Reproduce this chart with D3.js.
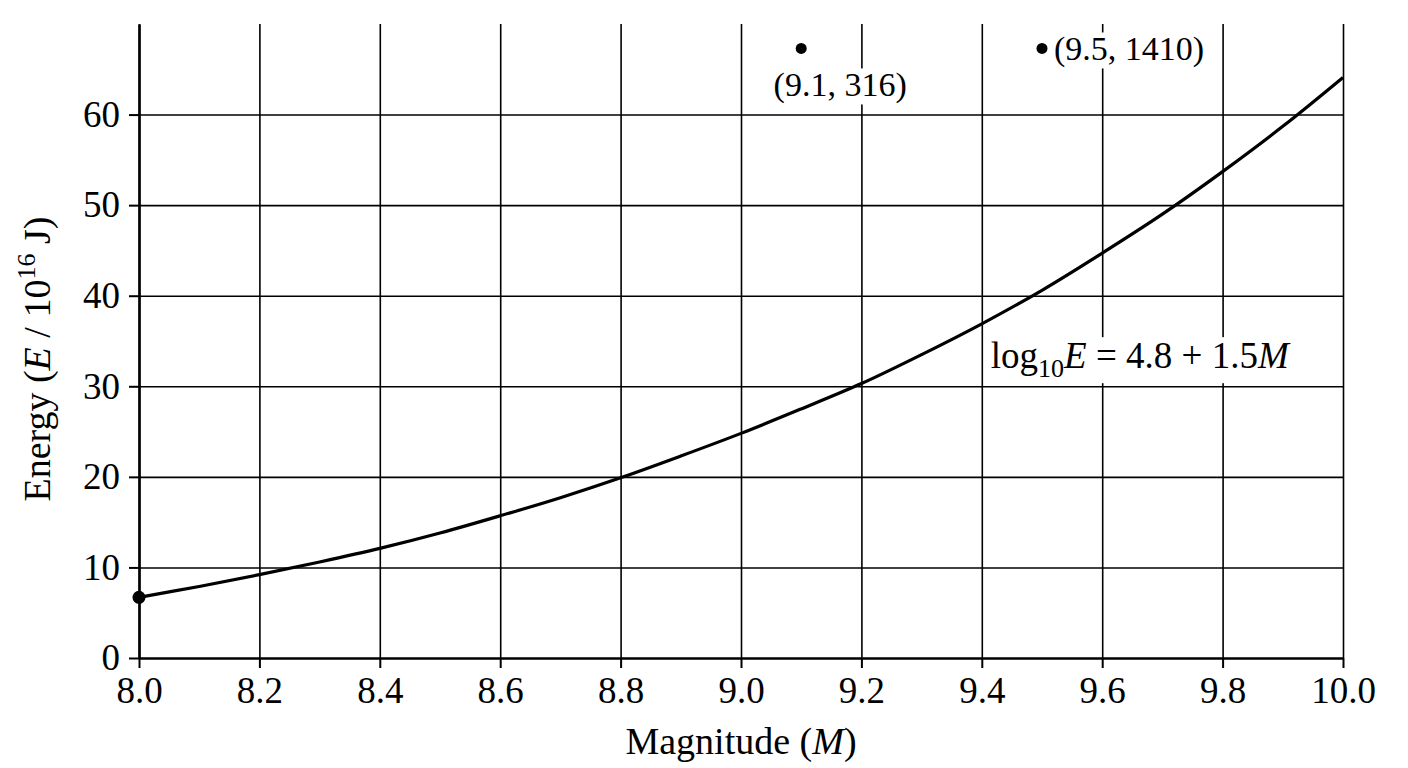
<!DOCTYPE html>
<html>
<head>
<meta charset="utf-8">
<script src="https://cdn.jsdelivr.net/npm/d3@7"></script>
<style>
  body { margin: 0; background: #fff; }
  text { font-family: "Liberation Serif", "Times New Roman", serif; fill: #000; }
</style>
</head>
<body>
<div id="chart"></div>
<script>
// values
const magnitudes = [8.0, 8.1, 8.2, 8.3, 8.4, 8.5, 8.6, 8.7, 8.8, 8.9, 9.0,
                    9.1, 9.2, 9.3, 9.4, 9.5, 9.6, 9.7, 9.8, 9.9, 10.0];
const energies = [6.7, 7.9, 9.2, 10.6, 12.1, 13.8, 15.7, 17.7, 19.9, 22.3, 24.8,
                  27.5, 30.3, 33.5, 36.9, 40.6, 44.7, 49.0, 53.7, 58.7, 64.1];
const xTicks = [8.0, 8.2, 8.4, 8.6, 8.8, 9.0, 9.2, 9.4, 9.6, 9.8, 10.0];
const yTicks = [0, 10, 20, 30, 40, 50, 60];
// off-scale points are pinned near the top of the axis
const markX = [8.0, 9.1, 9.5];
const markY = [6.7, 67.3, 67.3];
const markLabels = ["", "(9.1, 316)", "(9.5, 1410)"];

const fullWidth = 1408, fullHeight = 768;
const margin = { top: 24, right: 65, bottom: 110, left: 139 };
const width = fullWidth - margin.left - margin.right;
const height = fullHeight - margin.top - margin.bottom;

const svg = d3.select("#chart")
  .append("svg")
  .attr("width", fullWidth)
  .attr("height", fullHeight)
  .append("g")
  .attr("transform", `translate(${margin.left},${margin.top})`);

const x = d3.scaleLinear().domain([8, 10]).range([0, width]);
const y = d3.scaleLinear().domain([0, 70]).range([height, 0]);

// grid
svg.append("g")
  .attr("class", "grid")
  .attr("transform", `translate(0,${height})`)
  .call(d3.axisBottom(x).tickValues(xTicks).tickSize(-height).tickFormat(""))
  .call(g => g.select(".domain").remove())
  .selectAll("line").attr("stroke", "#000").attr("stroke-width", 1.6);

svg.append("g")
  .attr("class", "grid")
  .call(d3.axisLeft(y).tickValues(yTicks.slice(1)).tickSize(-width).tickFormat(""))
  .call(g => g.select(".domain").remove())
  .selectAll("line").attr("stroke", "#000").attr("stroke-width", 1.6);

// label backgrounds go above the grid, below the curve
const labelLayer = svg.append("g");

// axes
const xAxis = svg.append("g")
  .attr("transform", `translate(0,${height})`)
  .call(d3.axisBottom(x).tickValues(xTicks).tickSize(10).tickSizeOuter(0).tickPadding(9)
    .tickFormat(d3.format(".1f")));
const yAxis = svg.append("g")
  .call(d3.axisLeft(y).tickValues(yTicks).tickSize(10).tickSizeOuter(0).tickPadding(9));

[xAxis, yAxis].forEach(a => {
  a.select(".domain").attr("stroke", "#000").attr("stroke-width", 2.6);
  a.selectAll(".tick line").attr("stroke", "#000").attr("stroke-width", 2);
  a.selectAll("text")
    .attr("font-family", "Liberation Serif")
    .attr("font-size", 37);
});

// curve
const line = d3.line()
  .x((d, i) => x(magnitudes[i]))
  .y(d => y(d))
  .curve(d3.curveCatmullRom);

svg.append("path")
  .datum(energies)
  .attr("fill", "none")
  .attr("stroke", "#000")
  .attr("stroke-width", 3.2)
  .attr("d", line);

// points
svg.selectAll("circle.mark")
  .data(markX)
  .enter()
  .append("circle")
  .attr("class", "mark")
  .attr("cx", d => x(d))
  .attr("cy", (d, i) => y(markY[i]))
  .attr("r", (d, i) => i === 0 ? 6.5 : 5.5)
  .attr("fill", "#000");

function addLabel(node, pad) {
  const b = node.node().getBBox();
  labelLayer.append("rect")
    .attr("x", b.x - pad)
    .attr("y", b.y - pad + 4)
    .attr("width", b.width + 2 * pad)
    .attr("height", b.height + 2 * pad - 6)
    .attr("fill", "#fff");
}

const lab1 = svg.append("text")
  .attr("x", x(markX[1]) + 39)
  .attr("y", y(markY[1]) + 48)
  .attr("text-anchor", "middle")
  .attr("font-size", 34)
  .text(markLabels[1]);
addLabel(lab1, 2);

const lab2 = svg.append("text")
  .attr("x", x(markX[2]) + 12)
  .attr("y", y(markY[2]) + 12)
  .attr("font-size", 34)
  .text(markLabels[2]);
addLabel(lab2, 2);

// equation
const eq = svg.append("text")
  .attr("x", x(9.415))
  .attr("y", y(32.0))
  .attr("font-size", 37);
eq.append("tspan").text("log");
eq.append("tspan").attr("font-size", 26).attr("dy", 9).text("10");
eq.append("tspan").attr("font-style", "italic").attr("dy", -9).text("E");
eq.append("tspan").text(" = 4.8 + 1.5");
eq.append("tspan").attr("font-style", "italic").text("M");
addLabel(eq, 2);

// axis titles
const xt = svg.append("text")
  .attr("x", width / 2)
  .attr("y", height + 96)
  .attr("text-anchor", "middle")
  .attr("font-size", 38);
xt.append("tspan").text("Magnitude (");
xt.append("tspan").attr("font-style", "italic").text("M");
xt.append("tspan").text(")");

const yt = svg.append("text")
  .attr("transform", "rotate(-90)")
  .attr("x", -y(33))
  .attr("y", -89)
  .attr("text-anchor", "middle")
  .attr("font-size", 38);
yt.append("tspan").text("Energy (");
yt.append("tspan").attr("font-style", "italic").text("E");
yt.append("tspan").text(" / 10");
yt.append("tspan").attr("font-size", 26).attr("dy", -15).text("16");
yt.append("tspan").attr("dy", 15).text(" J)");
</script>
</body>
</html>
